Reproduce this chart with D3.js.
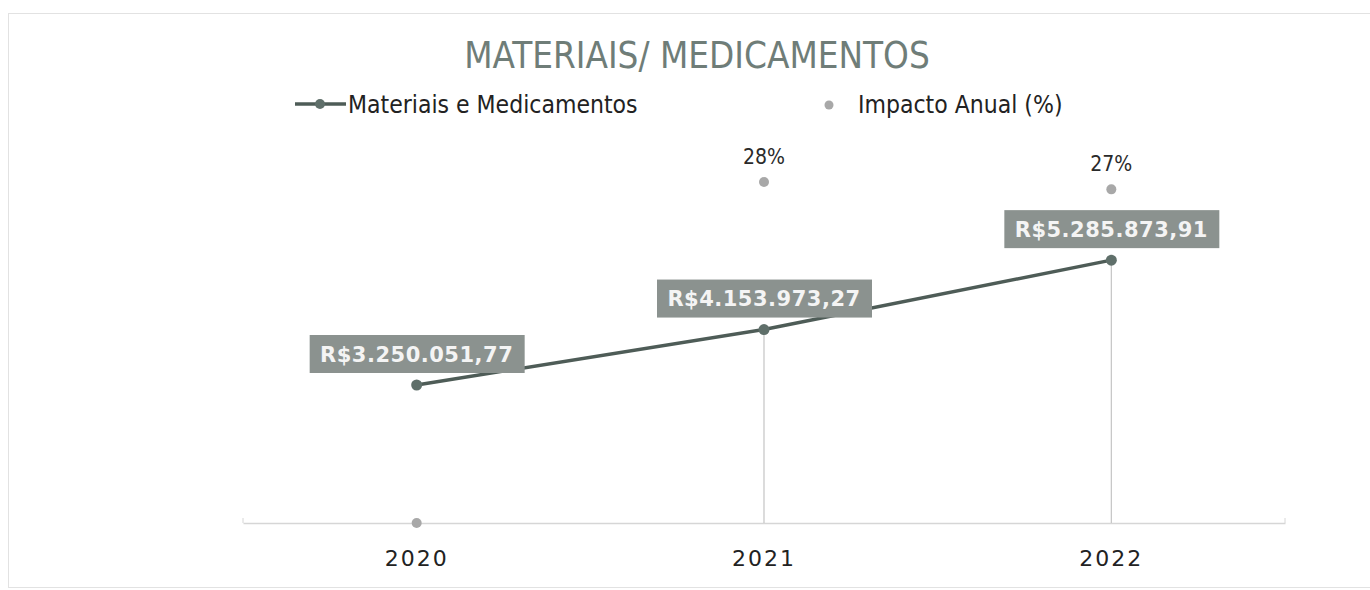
<!DOCTYPE html>
<html>
<head>
<meta charset="utf-8">
<script src="https://cdn.jsdelivr.net/npm/d3@7"></script>
<style>
  body { margin: 0; background: #fff; }
  svg { display: block; }
</style>
</head>
<body>
<div id="chart"></div>
<script>
'use strict';

const years = ['2020', '2021', '2022'];
const materiais = [3250051.77, 4153973.27, 5285873.91];
const impacto = [0, 27.8, 27.2];
const impactoLabels = ['', '28%', '27%'];

const size = { width: 1370, height: 590 };
const plot = { left: 243, right: 1285, top: 155, bottom: 523 };

const brl = v => 'R$' + v.toFixed(2).replace('.', ',').replace(/\B(?=(\d{3})+(?!\d))/g, '.');

const svg = d3.select('#chart')
    .append('svg')
    .attr('width', size.width)
    .attr('height', size.height);

// faint frame of the chart area
svg.append('rect')
    .attr('x', 8.5).attr('y', 13.5)
    .attr('width', 1380).attr('height', 574)
    .attr('fill', 'none')
    .attr('stroke', '#e2e2e2');

const x = d3.scaleBand()
    .domain(years)
    .range([plot.left, plot.right]);

const y = d3.scaleLinear()
    .domain([1000000, 7000000])
    .range([plot.bottom, plot.top]);

const y2 = d3.scaleLinear()
    .domain([0, 30])
    .range([plot.bottom, plot.top]);

const cx = d => x(d) + x.bandwidth() / 2;

// title
svg.append('text')
    .attr('x', 697).attr('y', 68)
    .attr('text-anchor', 'middle')
    .style('font-family', '"DejaVu Sans Condensed", "DejaVu Sans", sans-serif')
    .style('font-size', '36.5px')
    .style('fill', '#6f7d78')
    .text('MATERIAIS/ MEDICAMENTOS');

// legend
const legend = svg.append('g');
legend.append('line')
    .attr('x1', 295).attr('x2', 346).attr('y1', 104).attr('y2', 104)
    .attr('stroke', '#4e5c57').attr('stroke-width', 3.5);
legend.append('circle')
    .attr('cx', 320).attr('cy', 104).attr('r', 5)
    .attr('fill', '#5f6f6a');
legend.append('text')
    .attr('x', 348).attr('y', 113)
    .style('font-family', '"DejaVu Sans Condensed", "DejaVu Sans", sans-serif')
    .style('font-size', '24.5px')
    .style('fill', '#222')
    .text('Materiais e Medicamentos');
legend.append('circle')
    .attr('cx', 829).attr('cy', 105).attr('r', 4.5)
    .attr('fill', '#a8a8a8');
legend.append('text')
    .attr('x', 858).attr('y', 113)
    .style('font-family', '"DejaVu Sans Condensed", "DejaVu Sans", sans-serif')
    .style('font-size', '24.5px')
    .style('fill', '#222')
    .text('Impacto Anual (%)');

// category axis
const xAxis = svg.append('g')
    .attr('transform', `translate(0,${plot.bottom})`)
    .call(d3.axisBottom(x).tickSize(0).tickPadding(27));
xAxis.select('.domain').attr('stroke', '#d6d6d6').attr('stroke-width', 1.5);
xAxis.selectAll('text')
    .style('font-family', '"DejaVu Sans", sans-serif')
    .style('font-size', '22px')
    .style('letter-spacing', '2px')
    .style('fill', '#222');
[plot.left, plot.right].forEach(px => {
    svg.append('line')
        .attr('x1', px).attr('x2', px)
        .attr('y1', plot.bottom - 5).attr('y2', plot.bottom)
        .attr('stroke', '#d6d6d6');
});

// drop lines
svg.selectAll('.drop')
    .data(years.filter((d, i) => impacto[i] > 0))
    .enter().append('line')
    .attr('class', 'drop')
    .attr('x1', d => cx(d)).attr('x2', d => cx(d))
    .attr('y1', d => y(materiais[years.indexOf(d)]))
    .attr('y2', plot.bottom)
    .attr('stroke', '#c4c4c4')
    .attr('stroke-width', 1.2);

// impact dots + labels
svg.selectAll('.imp')
    .data(years)
    .enter().append('circle')
    .attr('class', 'imp')
    .attr('cx', d => cx(d))
    .attr('cy', (d, i) => y2(impacto[i]))
    .attr('r', 5)
    .attr('fill', '#a8a8a8');

svg.selectAll('.imp-label')
    .data(years)
    .enter().append('text')
    .attr('class', 'imp-label')
    .attr('x', d => cx(d))
    .attr('y', (d, i) => y2(impacto[i]) - 18)
    .attr('text-anchor', 'middle')
    .style('font-family', '"DejaVu Sans Condensed", "DejaVu Sans", sans-serif')
    .style('font-size', '21px')
    .style('fill', '#2a2a2a')
    .text((d, i) => impactoLabels[i]);

// line series
const line = d3.line()
    .x(d => cx(d.year))
    .y(d => y(d.value));
const lineData = years.map((d, i) => ({ year: d, value: materiais[i] }));

svg.append('path')
    .datum(lineData)
    .attr('d', line)
    .attr('fill', 'none')
    .attr('stroke', '#4e5c57')
    .attr('stroke-width', 3.5);

svg.selectAll('.pt')
    .data(lineData)
    .enter().append('circle')
    .attr('class', 'pt')
    .attr('cx', d => cx(d.year))
    .attr('cy', d => y(d.value))
    .attr('r', 5.5)
    .attr('fill', '#5f6f6a');

// value labels in gray boxes
const labels = svg.selectAll('.val')
    .data(lineData)
    .enter().append('g')
    .attr('class', 'val')
    .attr('transform', d => `translate(${cx(d.year)},${y(d.value) - 31})`);

labels.append('rect')
    .attr('x', -107).attr('y', -19)
    .attr('width', 215).attr('height', 38)
    .attr('fill', '#8b928f');

labels.append('text')
    .attr('text-anchor', 'middle')
    .attr('dy', '0.36em')
    .style('font-family', '"DejaVu Sans", sans-serif')
    .style('font-size', '21px')
    .style('font-weight', 'bold')
    .style('letter-spacing', '0.5px')
    .style('fill', '#f4f4f4')
    .text(d => brl(d.value));
</script>
</body>
</html>
